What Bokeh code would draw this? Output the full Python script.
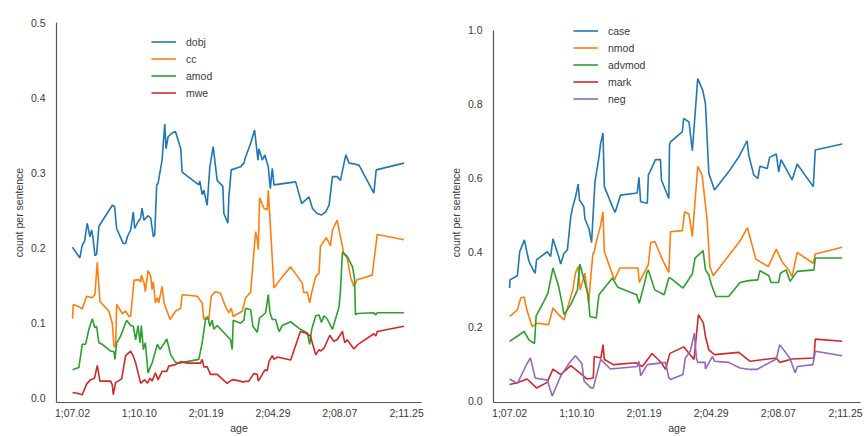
from bokeh.plotting import figure
from bokeh.layouts import row
from bokeh.models import Range1d, FixedTicker, Legend, LegendItem
from bokeh.embed import file_html
from bokeh.resources import INLINE

# ---- x axis (age, days from 1;07.02) ----
tick_days = [0, 100, 200, 300, 400, 500]
tick_labels = ["1;07.02", "1;10.10", "2;01.19", "2;04.29", "2;08.07", "2;11.25"]

# ---- left panel ----
dobj_x = [0, 4.5, 11, 14.5, 18, 22, 26, 28.5, 30.5, 33.5, 36, 39.5, 59.5, 63, 66, 76, 79.5, 82, 87, 91, 93, 98,
          102, 104, 107, 113, 117, 121, 123, 126, 128, 134, 138, 140, 143, 149, 154, 162, 164, 189, 190.5, 194,
          196.5, 201.5, 205.5, 210.5, 216.5, 225, 226.5, 232.5, 234, 237.5, 251.5, 256.5, 259, 266.5, 272.5, 275,
          277.5, 279, 284, 288, 290, 293, 296, 299, 301.5, 334, 343, 354, 359, 366, 373, 379, 384, 389, 396, 401,
          409, 414, 421, 429, 451, 454.5, 496]
dobj_y = [0.201, 0.195, 0.187, 0.204, 0.209, 0.233, 0.215, 0.224, 0.215, 0.190, 0.192, 0.229, 0.257, 0.255, 0.226,
          0.206, 0.206, 0.215, 0.224, 0.248, 0.226, 0.235, 0.240, 0.253, 0.237, 0.243, 0.240, 0.215, 0.218, 0.284,
          0.286, 0.317, 0.365, 0.332, 0.348, 0.353, 0.355, 0.332, 0.301, 0.284, 0.289, 0.271, 0.277, 0.257, 0.308,
          0.335, 0.290, 0.282, 0.246, 0.233, 0.268, 0.304, 0.308, 0.313, 0.321, 0.339, 0.357, 0.337, 0.317, 0.332,
          0.317, 0.324, 0.317, 0.308, 0.279, 0.306, 0.284, 0.288, 0.259, 0.268, 0.253, 0.246, 0.244, 0.248, 0.257,
          0.295, 0.295, 0.290, 0.324, 0.313, 0.312, 0.310, 0.273, 0.304, 0.313]

cc_x = [0, 1, 9.5, 14.5, 21, 29.5, 33.5, 37, 41, 54.5, 59.5, 62, 64.5, 66, 74.5, 79.5, 84.5, 87, 92, 99, 102, 103,
        107, 109, 113, 117, 119, 121, 124, 127, 129, 134, 137, 146, 154, 162, 164, 187, 190.5, 194, 196.5, 201.5,
        204, 207.5, 214, 221.5, 229, 234, 237.5, 240.5, 244, 254, 259, 266.5, 274, 276.5, 278, 280, 286.5, 291.5,
        293, 301.5, 314, 326.5, 344, 346, 351.5, 355, 358, 364, 369, 371, 380, 386, 389, 396, 404, 406, 411, 416,
        421, 426, 448.5, 456, 496]
cc_y = [0.106, 0.125, 0.122, 0.119, 0.136, 0.134, 0.138, 0.181, 0.129, 0.116, 0.100, 0.069, 0.069, 0.125, 0.113,
        0.116, 0.109, 0.109, 0.157, 0.158, 0.155, 0.164, 0.154, 0.142, 0.170, 0.163, 0.145, 0.155, 0.127, 0.134,
        0.127, 0.149, 0.127, 0.105, 0.116, 0.120, 0.138, 0.136, 0.131, 0.127, 0.105, 0.109, 0.105, 0.136, 0.142,
        0.140, 0.122, 0.114, 0.120, 0.109, 0.111, 0.116, 0.134, 0.141, 0.222, 0.211, 0.198, 0.267, 0.253, 0.251,
        0.277, 0.147, 0.162, 0.175, 0.153, 0.141, 0.141, 0.127, 0.141, 0.162, 0.167, 0.202, 0.214, 0.203, 0.224,
        0.237, 0.202, 0.192, 0.187, 0.162, 0.149, 0.158, 0.164, 0.218, 0.211]

amod_x = [0, 9.5, 14.5, 19.5, 24.5, 29.5, 33.5, 36, 39.5, 44.5, 57, 62, 63.5, 66, 72, 81, 87, 91, 94.5, 98, 101,
          103, 106, 109, 113, 117, 119, 122, 127, 131, 134, 141, 147, 154, 159, 189, 194, 199, 203, 205.5, 209,
          211.5, 216.5, 236.5, 239, 240.5, 251.5, 256.5, 259, 266.5, 270, 276.5, 280, 284, 289, 293, 295.5, 299,
          304, 309, 314, 326.5, 341, 351.5, 355, 358, 364, 369, 372.5, 376.5, 381, 389, 399, 401, 404, 411, 419,
          422, 423.5, 426, 451, 453.5, 456, 496]
amod_y = [0.038, 0.041, 0.072, 0.072, 0.092, 0.106, 0.094, 0.096, 0.074, 0.072, 0.063, 0.062, 0.052, 0.074, 0.083,
          0.104, 0.097, 0.096, 0.078, 0.097, 0.074, 0.097, 0.065, 0.074, 0.034, 0.043, 0.047, 0.056, 0.072, 0.065,
          0.069, 0.079, 0.058, 0.048, 0.047, 0.052, 0.074, 0.105, 0.107, 0.096, 0.104, 0.092, 0.097, 0.078, 0.065,
          0.104, 0.100, 0.104, 0.120, 0.118, 0.096, 0.088, 0.107, 0.110, 0.114, 0.138, 0.114, 0.105, 0.105, 0.089,
          0.097, 0.102, 0.092, 0.087, 0.072, 0.092, 0.110, 0.111, 0.101, 0.110, 0.106, 0.092, 0.122, 0.143, 0.195,
          0.189, 0.175, 0.160, 0.111, 0.113, 0.114, 0.111, 0.114, 0.114]

mwe_x = [0, 7, 14.5, 21, 27, 33, 37, 41, 57, 59.5, 61, 64.5, 73.5, 79.5, 87, 91, 94.5, 102, 108, 112, 116, 119,
         124, 128, 134, 141, 144, 154, 162, 172, 191.5, 194, 196.5, 201.5, 206.5, 216.5, 231.5, 239, 251.5, 254,
         264, 271, 276.5, 278, 284, 288, 291.5, 294, 299, 301.5, 306.5, 326.5, 341, 349, 356, 364, 369, 371,
         376.5, 385, 391, 396, 404, 407.5, 411, 421, 429, 451, 454, 456, 496]
mwe_y = [0.008, 0.007, 0.005, 0.019, 0.025, 0.027, 0.044, 0.023, 0.023, 0.018, 0.005, 0.021, 0.026, 0.057, 0.063,
         0.056, 0.047, 0.020, 0.025, 0.020, 0.027, 0.023, 0.034, 0.025, 0.036, 0.036, 0.043, 0.045, 0.049, 0.047,
         0.047, 0.052, 0.042, 0.042, 0.032, 0.032, 0.020, 0.025, 0.023, 0.022, 0.023, 0.033, 0.032, 0.023, 0.032,
         0.038, 0.037, 0.049, 0.057, 0.052, 0.055, 0.051, 0.089, 0.087, 0.083, 0.058, 0.065, 0.063, 0.067, 0.084,
         0.076, 0.078, 0.089, 0.074, 0.078, 0.066, 0.073, 0.086, 0.083, 0.089, 0.096]

# ---- right panel ----
case_x = [0, 0.5, 11.5, 15, 22, 26, 29, 35, 38, 40, 56, 61, 64.5, 73, 76, 81, 86, 91, 94, 98, 102, 104, 110.5, 112,
          118, 122, 127, 133, 135.5, 139, 141, 153, 157, 165, 190, 192.5, 195, 205, 206.5, 212.5, 217, 224.5, 226,
          237, 238, 239.5, 257, 259, 267, 272, 280, 287.5, 291.5, 296.5, 305, 326, 341, 353.5, 356, 363.5, 369.5,
          372.5, 383.5, 387, 397, 400.5, 404, 420.5, 428, 452, 455, 495]
case_y = [0.304, 0.326, 0.337, 0.402, 0.434, 0.398, 0.375, 0.353, 0.344, 0.380, 0.402, 0.389, 0.437, 0.389, 0.369,
          0.398, 0.407, 0.497, 0.524, 0.549, 0.585, 0.542, 0.524, 0.492, 0.465, 0.427, 0.591, 0.658, 0.695, 0.723,
          0.578, 0.524, 0.508, 0.555, 0.561, 0.603, 0.537, 0.533, 0.609, 0.632, 0.651, 0.651, 0.596, 0.546, 0.690,
          0.699, 0.726, 0.762, 0.753, 0.675, 0.870, 0.838, 0.802, 0.614, 0.569, 0.618, 0.658, 0.702, 0.663, 0.609,
          0.600, 0.633, 0.627, 0.657, 0.666, 0.618, 0.651, 0.596, 0.639, 0.578, 0.677, 0.693]

nmod_x = [0, 11.5, 16.5, 21.5, 26, 33.5, 41, 58, 64.5, 73, 81, 94, 98, 102, 105, 112, 117.5, 124, 125.5, 129,
          135, 139, 141, 156, 164, 191, 193, 206.5, 210, 216.5, 222.5, 227.5, 237, 239.5, 257, 260.5, 267, 272,
          280, 286.5, 294, 298, 303, 344, 354, 366.5, 385, 397, 405.5, 415.5, 420.5, 428, 452, 455, 495]
nmod_y = [0.227, 0.245, 0.277, 0.280, 0.243, 0.200, 0.209, 0.205, 0.250, 0.232, 0.218, 0.299, 0.344, 0.362, 0.299,
          0.344, 0.263, 0.398, 0.398, 0.429, 0.470, 0.510, 0.402, 0.326, 0.358, 0.358, 0.319, 0.367, 0.427, 0.429,
          0.402, 0.380, 0.346, 0.456, 0.459, 0.510, 0.504, 0.443, 0.633, 0.609, 0.488, 0.362, 0.337, 0.434, 0.467,
          0.382, 0.362, 0.409, 0.375, 0.353, 0.335, 0.400, 0.371, 0.396, 0.414]

advmod_x = [0, 12.5, 21.5, 29, 37, 39.5, 51, 57, 64.5, 73, 78, 81, 91, 101, 104.5, 117, 119.5, 129, 133, 153, 161,
            189, 193, 201.5, 204, 206.5, 216, 230, 237, 239.5, 258, 272, 276, 288, 291.5, 296.5, 300, 307, 326,
            343, 356, 369.5, 372.5, 386, 389, 400.5, 403, 411.5, 417.5, 428, 453, 455, 495]
advmod_y = [0.160, 0.175, 0.187, 0.163, 0.154, 0.229, 0.268, 0.290, 0.358, 0.308, 0.263, 0.232, 0.259, 0.299, 0.369,
            0.286, 0.227, 0.223, 0.286, 0.331, 0.306, 0.286, 0.263, 0.322, 0.344, 0.353, 0.299, 0.286, 0.331, 0.331,
            0.304, 0.342, 0.385, 0.405, 0.353, 0.340, 0.315, 0.281, 0.281, 0.319, 0.324, 0.326, 0.351, 0.337, 0.319,
            0.319, 0.344, 0.353, 0.322, 0.349, 0.353, 0.385, 0.385]

mark_x = [0, 11.5, 26, 40, 56, 64.5, 76, 91, 107.5, 115.5, 124.5, 126, 136, 139, 141, 154.5, 188, 197.5, 212,
          226, 232, 238, 239.5, 259, 274.5, 281, 288.5, 291.5, 296.5, 305, 341, 358, 397, 402, 420.5, 453, 455, 495]
mark_y = [0.043, 0.048, 0.058, 0.034, 0.049, 0.085, 0.070, 0.094, 0.070, 0.058, 0.061, 0.119, 0.115, 0.151, 0.111,
          0.097, 0.102, 0.092, 0.127, 0.102, 0.084, 0.124, 0.128, 0.145, 0.111, 0.232, 0.209, 0.173, 0.137, 0.124,
          0.130, 0.106, 0.115, 0.103, 0.112, 0.115, 0.166, 0.160]

neg_x = [0, 11.5, 26, 31, 38, 56, 63.5, 76, 89, 98, 107.5, 111, 121, 124.5, 135.5, 150, 190, 192.5, 195, 205, 232,
         237, 239.5, 258, 261.5, 269, 275, 278, 280, 291, 291.5, 302, 305, 326, 343, 358, 368, 397, 402, 417,
         425, 428.5, 451.5, 455, 495]
neg_y = [0.058, 0.046, 0.100, 0.115, 0.061, 0.055, 0.012, 0.066, 0.102, 0.121, 0.100, 0.052, 0.034, 0.034, 0.111,
         0.085, 0.092, 0.106, 0.067, 0.097, 0.103, 0.061, 0.057, 0.070, 0.115, 0.133, 0.182, 0.115, 0.103, 0.103,
         0.085, 0.119, 0.106, 0.103, 0.088, 0.084, 0.084, 0.112, 0.151, 0.115, 0.075, 0.092, 0.097, 0.133, 0.121]

left_series = [("dobj", dobj_x, dobj_y), ("cc", cc_x, cc_y), ("amod", amod_x, amod_y), ("mwe", mwe_x, mwe_y)]
right_series = [("case", case_x, case_y), ("nmod", nmod_x, nmod_y), ("advmod", advmod_x, advmod_y),
                ("mark", mark_x, mark_y), ("neg", neg_x, neg_y)]
colors = ["#1f77b4", "#ff7f0e", "#2ca02c", "#d62728", "#9467bd"]

FONT = "Liberation Sans"
TXT = "#3a3a3a"


def make_panel(series, y_top, y_end, y_ticks, width, height, b_left, b_right, legend_loc):
    y_start = -0.0054
    p = figure(width=width, height=height, output_backend="svg", toolbar_location=None,
               x_range=Range1d(-24, 522.3), y_range=Range1d(y_start, y_end),
               min_border_left=b_left, min_border_right=b_right, min_border_top=22, min_border_bottom=33)
    p.outline_line_color = None
    p.grid.grid_line_color = None
    items = []
    for i, (name, xs, ys) in enumerate(series):
        r = p.line(xs, ys, line_color=colors[i], line_width=1.6)
        items.append(LegendItem(label=name, renderers=[r]))
    leg = Legend(items=items, location=legend_loc, border_line_color=None, background_fill_alpha=0,
                 padding=0, margin=0, spacing=0, glyph_width=25, glyph_height=17, label_height=17,
                 label_standoff=10, label_text_font=FONT, label_text_font_size="10.5px",
                 label_text_color=TXT)
    p.add_layout(leg)
    for ax in (p.xaxis[0], p.yaxis[0]):
        ax.major_tick_line_color = None
        ax.minor_tick_line_color = None
        ax.major_tick_out = 0
        ax.major_tick_in = 0
        ax.axis_line_color = "#555555"
        ax.axis_line_width = 1.2
        ax.major_label_text_font = FONT
        ax.major_label_text_font_size = "10.5px"
        ax.major_label_text_color = TXT
        ax.axis_label_text_font = FONT
        ax.axis_label_text_font_size = "10.5px"
        ax.axis_label_text_font_style = "normal"
        ax.axis_label_text_color = TXT
    p.xaxis.ticker = FixedTicker(ticks=tick_days)
    p.xaxis.major_label_overrides = {d: l for d, l in zip(tick_days, tick_labels)}
    p.xaxis.major_label_standoff = 4
    p.xaxis.axis_label = "age"
    p.xaxis.axis_label_standoff = 0
    p.yaxis.ticker = FixedTicker(ticks=y_ticks)
    p.yaxis.major_label_overrides = {t: f"{t:.1f}" for t in y_ticks}
    p.yaxis.major_label_standoff = 11
    p.yaxis.bounds = (y_start, y_top)
    p.yaxis.axis_label = "count per sentence"
    p.yaxis.axis_label_standoff = 3
    return p


p1 = make_panel(left_series, 0.5, 0.5, [0.0, 0.1, 0.2, 0.3, 0.4, 0.5], 440, 436, 56, 19, (95, 301))
p2 = make_panel(right_series, 1.0, 1.0216, [0.0, 0.2, 0.4, 0.6, 0.8, 1.0], 427, 436, 53, 7, (80, 295))

layout = row(p1, p2)
open("out.html", "w").write(file_html(layout, INLINE))
